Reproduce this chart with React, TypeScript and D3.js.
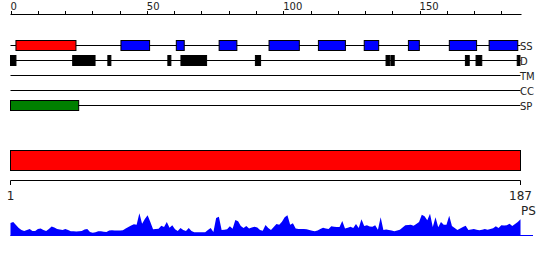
import React from "react";
import * as d3 from "d3";

const trackLabels = ["SS", "D", "TM", "CC", "SP"];
const topTicks = d3.range(0, 190, 10);
const topLabels = [0, 50, 100, 150];
const bottomLabels = [1, 187];

// secondary structure: [start, end]
const helices = [[2, 24]];
const strands = [
  [40.5, 51], [60.8, 63.7], [76.5, 83], [94.8, 105.9], [112.9, 122.8],
  [129.7, 135], [145.9, 149.9], [160.9, 170.9], [175.5, 186],
];
const disorder = [
  [0, 2], [22.8, 31], [35.7, 36.8], [57.7, 58.8], [62.5, 71.9], [89.8, 91.7],
  [137.7, 139.1], [139.5, 140.7], [166.8, 168.2], [170.7, 172.8], [185.8, 186.8],
];
const transmembrane: number[][] = [];
const coiledCoil: number[][] = [];
const signalPeptide = [[0, 25]];
const domainBar = [[1, 187]];

const psValues = [
  13, 14, 11, 8, 6, 5, 6, 7, 5, 5,
  7, 7.5, 6, 5, 7, 9.5, 8.5, 7, 6.5, 6,
  7, 6, 4.7, 4.7, 4.5, 4.7, 5, 6.5, 7, 4,
  3.3, 3.8, 4.7, 4.7, 4.2, 4, 5.5, 5.7, 5.5, 5.6,
  5.5, 5.7, 7.5, 9, 10.5, 11.7, 11.3, 22.7, 12.3, 17,
  20.7, 14, 6.7, 7, 7.3, 10.3, 9, 14, 8.3, 10.7,
  6.7, 5, 8, 6, 5, 8, 5, 3.7, 3.7, 3.7,
  3.7, 3.7, 6, 8, 4, 18, 19.3, 6, 6.3, 6.7,
  9.7, 7.3, 16, 14.7, 10, 8, 10, 7.5, 8.5, 9.3,
  8.5, 6, 5.3, 11, 8, 6, 9, 12, 11.3, 14.3,
  18.7, 20.7, 11.3, 12.7, 7.5, 7, 7, 7, 6.7, 6,
  5.3, 4.7, 5.5, 7, 8.3, 7.5, 7, 9.7, 9.3, 9,
  9, 15, 7.5, 8.3, 9.3, 8, 12, 8, 16.7, 10,
  10.7, 9.5, 9.3, 10.7, 6.3, 18.7, 6, 6.5, 6, 5.5,
  4.7, 5.5, 6.3, 8.5, 10.7, 11, 11.3, 10.3, 12, 14,
  21.3, 19.7, 15.7, 22.3, 9, 18.7, 8.7, 14, 11.3, 11.3,
  20.3, 10, 8, 6, 7.5, 9, 10.3, 6, 6.5, 7,
  6.3, 5.7, 6.3, 7, 6.3, 7, 7.7, 9.7, 8, 10.7,
  10.5, 10.7, 12.3, 10, 12, 14, 16.7,
];

const FONT = "DejaVu Sans, sans-serif";

export default function App() {
  const x = d3.scaleLinear().domain([0, 187]).range([10.5, 520.5]);
  const xb = d3.scaleLinear().domain([1, 187]).range([10.5, 520.5]);
  const yPS = d3.scaleLinear().domain([0, 25]).range([236, 211]);
  const trackY = d3.scaleOrdinal<string, number>().domain(trackLabels).range([45.5, 60.5, 75.5, 90.5, 105.5]);

  const area = d3
    .area<number>()
    .x((_, i) => xb(i + 1))
    .y0(236)
    .y1((d) => yPS(d));

  const boxes = (data: number[][], track: string, fill: string, key: string) =>
    data.map((d, i) => (
      <rect
        key={key + i}
        x={x(d[0])}
        y={trackY(track) - 5}
        width={x(d[1]) - x(d[0])}
        height={10}
        fill={fill}
        stroke="black"
        strokeWidth={1}
      />
    ));

  return (
    <svg width={550} height={260} style={{ position: "absolute", left: 0, top: 0 }} fontFamily={FONT}>
      {/* top axis */}
      <line x1={x(0)} x2={521.5} y1={14.5} y2={14.5} stroke="black" />
      {topTicks.map((t) => (
        <line key={"t" + t} x1={Math.round(x(t)) + 0.5} x2={Math.round(x(t)) + 0.5} y1={11} y2={14.5} stroke="black" />
      ))}
      {topLabels.map((t) => (
        <text key={"tl" + t} x={x(t)} y={10} fontSize={10} fill="#222">
          {t}
        </text>
      ))}

      {/* tracks */}
      {trackLabels.map((t) => (
        <g key={"tr" + t}>
          <line x1={10.5} x2={520.5} y1={trackY(t)} y2={trackY(t)} stroke="black" />
          <text x={520} y={trackY(t) + 4} fontSize={10} fill="#222">
            {t}
          </text>
        </g>
      ))}
      {boxes(helices, "SS", "#ff0000", "h")}
      {boxes(strands, "SS", "#0000ff", "s")}
      {boxes(disorder, "D", "black", "d")}
      {boxes(transmembrane, "TM", "#888", "tm")}
      {boxes(coiledCoil, "CC", "#888", "cc")}
      {boxes(signalPeptide, "SP", "#008000", "sp")}

      {/* domain bar */}
      {domainBar.map((d, i) => (
        <rect key={"db" + i} x={xb(d[0])} y={150.5} width={xb(d[1]) - xb(d[0])} height={20} fill="#ff0000" stroke="black" />
      ))}

      {/* bottom axis */}
      <line x1={xb(1)} x2={xb(187)} y1={180.5} y2={180.5} stroke="black" />
      {bottomLabels.map((t) => (
        <g key={"bl" + t}>
          <line x1={xb(t)} x2={xb(t)} y1={180.5} y2={185} stroke="black" />
          <text x={xb(t)} y={200} fontSize={12} textAnchor="middle" fill="#222">
            {t}
          </text>
        </g>
      ))}

      {/* PS area */}
      <path d={area(psValues) || ""} fill="#0000ff" />
      <line x1={10.5} x2={533} y1={235.5} y2={235.5} stroke="#0000ff" />
      <text x={521} y={215} fontSize={12} fill="#222">
        PS
      </text>
    </svg>
  );
}
